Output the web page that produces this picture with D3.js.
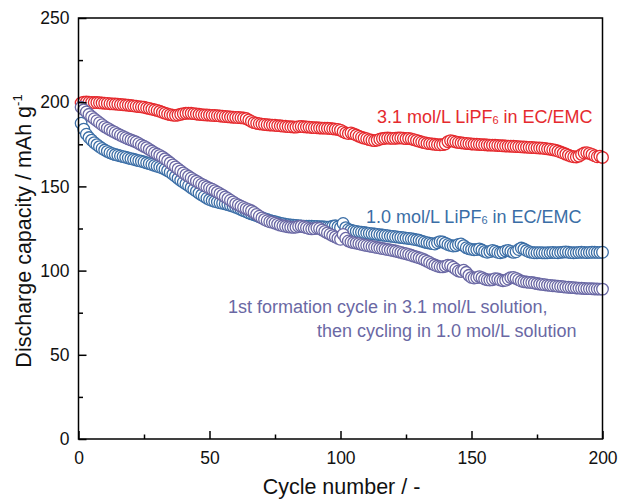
<!DOCTYPE html>
<html>
<head>
<meta charset="utf-8">
<script src="https://cdn.jsdelivr.net/npm/d3@7"></script>
<style>
  html, body { margin: 0; padding: 0; background: #fff; }
  svg { display: block; font-family: "Liberation Sans", Arial, sans-serif; }
</style>
</head>
<body>
<svg id="chart" width="618" height="500"></svg>
<script>
// Discharge capacity (mAh/g) per cycle, cycles 1..200
const cycles = d3.range(1, 201);

const cap31 = [
  199.5, 200.0, 200.1, 200.0, 199.9, 199.8, 199.8, 199.7, 199.5, 199.4,
  199.3, 199.1, 199.0, 198.9, 198.8, 198.6, 198.5, 198.3, 198.2, 198.0,
  197.8, 197.6, 197.4, 197.2, 197.0, 196.6, 196.3, 195.9, 195.5, 195.1,
  194.6, 194.0, 193.5, 193.0, 192.6, 192.3, 192.2, 192.4, 192.8, 193.2,
  193.4, 193.5, 193.4, 193.2, 193.0, 192.8, 192.6, 192.5, 192.4, 192.3,
  192.2, 192.1, 192.0, 191.8, 191.7, 191.5, 191.4, 191.2, 191.1, 191.0,
  190.9, 190.8, 190.6, 190.3, 189.5, 188.6, 187.9, 187.5, 187.2, 187.0,
  186.8, 186.6, 186.5, 186.4, 186.3, 186.1, 186.0, 185.8, 185.7, 185.5,
  185.4, 185.3, 185.2, 185.5, 185.6, 185.4, 185.3, 185.2, 185.0, 184.9,
  184.8, 184.7, 184.6, 184.6, 184.5, 184.4, 184.2, 184.0, 183.8, 183.4,
  182.5, 181.8, 181.4, 181.8, 181.2, 180.5, 179.8, 179.2, 178.7, 178.3,
  177.8, 177.4, 177.2, 177.5, 178.0, 178.4, 178.6, 178.7, 178.6, 178.5,
  178.6, 178.7, 178.8, 178.6, 178.4, 178.5, 178.2, 177.8, 177.3, 176.8,
  176.4, 176.0, 175.6, 175.4, 175.2, 175.0, 174.8, 174.7, 174.8, 175.2,
  176.6, 177.2, 176.8, 176.4, 176.1, 175.9, 175.7, 175.5, 175.4, 175.2,
  175.1, 175.0, 174.9, 174.8, 174.7, 174.6, 174.5, 174.5, 174.4, 174.3,
  174.2, 174.1, 174.0, 173.9, 173.9, 173.8, 173.7, 173.6, 173.5, 173.4,
  173.3, 173.2, 173.1, 173.0, 172.9, 172.8, 172.7, 172.5, 172.3, 172.1,
  171.8, 171.5, 171.0, 170.4, 169.8, 169.2, 168.6, 168.0, 167.6, 167.5,
  168.0, 169.0, 169.8, 170.0, 169.6, 169.0, 168.2, 167.6, 168.0, 167.2
];

const cap10 = [
  187.5, 184.0, 181.0, 179.0, 177.5, 176.0, 174.8, 173.6, 172.5, 171.6,
  170.8, 170.0, 169.4, 168.9, 168.5, 168.1, 167.7, 167.3, 166.9, 166.5,
  166.1, 165.7, 165.3, 164.9, 164.5, 164.0, 163.5, 163.0, 162.5, 162.0,
  161.5, 160.9, 160.2, 159.4, 158.4, 157.2, 156.0, 154.8, 153.6, 152.5,
  151.5, 150.4, 149.3, 148.2, 147.1, 146.0, 145.0, 144.0, 143.0, 142.2,
  141.6, 141.1, 140.7, 140.3, 140.0, 139.6, 139.2, 138.7, 138.2, 137.6,
  137.0, 136.3, 135.6, 135.0, 134.3, 133.7, 133.2, 132.6, 132.0, 131.4,
  130.8, 130.3, 129.8, 129.4, 129.0, 128.6, 128.2, 127.9, 127.6, 127.3,
  127.1, 126.9, 126.8, 126.6, 126.5, 126.4, 126.4, 126.3, 126.3, 126.2,
  126.2, 126.1, 126.0, 125.9, 125.8, 125.9, 126.3, 126.6, 126.0, 125.5,
  128.0, 125.5, 124.4, 124.0, 123.6, 123.3, 123.0, 122.8, 122.6, 122.3,
  122.1, 121.9, 121.7, 121.5, 121.3, 121.1, 120.9, 120.7, 120.5, 120.3,
  120.1, 119.9, 119.7, 119.5, 119.3, 119.1, 118.9, 118.6, 118.3, 118.0,
  117.5, 117.0, 116.6, 116.3, 116.0, 115.8, 116.5, 117.2, 117.0, 116.3,
  115.5, 115.0, 114.6, 114.8, 115.5, 115.8, 114.8, 113.6, 113.0, 112.6,
  112.4, 112.5, 112.9, 112.2, 111.4, 110.9, 111.3, 112.0, 111.5, 110.9,
  110.6, 111.0, 111.7, 112.0, 111.4, 110.8, 111.2, 112.5, 113.4, 112.8,
  111.9, 111.2, 110.8, 110.6, 110.6, 110.7, 110.6, 110.5, 110.6, 110.7,
  110.8, 110.7, 110.6, 110.8, 111.0, 111.1, 110.9, 110.7, 110.6, 110.7,
  110.8, 110.9, 110.8, 110.7, 110.8, 110.9, 110.9, 110.8, 110.8, 110.9
];

const capFormation = [
  197.0, 195.5, 194.2, 192.8, 191.4, 190.2, 189.0, 187.8, 186.6, 185.5,
  184.6, 183.7, 182.8, 182.0, 181.2, 180.4, 179.6, 178.9, 178.2, 177.6,
  177.0, 176.4, 175.5, 174.6, 173.8, 173.0, 172.0, 171.0, 170.0, 169.2,
  168.4, 167.5, 166.4, 165.2, 164.0, 162.8, 161.6, 160.4, 159.2, 158.0,
  157.0, 156.0, 155.0, 154.0, 153.1, 152.2, 151.3, 150.5, 149.7, 149.0,
  148.3, 147.5, 146.6, 145.7, 144.8, 143.8, 142.8, 141.8, 140.8, 139.8,
  139.0, 138.2, 137.5, 136.8, 136.2, 135.5, 134.5, 133.4, 132.3, 131.3,
  130.4, 129.6, 129.0, 128.7, 128.2, 127.6, 127.0, 126.6, 126.3, 126.0,
  125.8, 125.7, 125.8, 126.2, 126.4, 126.0, 125.5, 125.0, 124.8, 124.9,
  125.3, 125.0, 124.2, 123.3, 122.4, 121.6, 120.8, 120.0, 119.2, 118.6,
  121.5, 119.2, 117.6, 117.0, 116.6, 116.3, 116.0, 115.6, 115.2, 114.9,
  114.6, 114.3, 114.0, 113.7, 113.4, 113.1, 112.8, 112.5, 112.2, 111.9,
  111.6, 111.2, 110.8, 110.4, 110.0, 109.6, 109.1, 108.6, 108.1, 107.6,
  107.1, 106.4, 105.6, 104.8, 104.0, 103.3, 102.7, 102.3, 102.2, 102.6,
  103.2, 103.0, 102.0, 100.8, 99.8, 99.5, 100.2, 99.0, 97.2, 96.0,
  95.6, 95.8, 96.4, 95.8, 95.0, 94.6, 94.4, 94.6, 95.2, 95.0,
  94.4, 94.0, 94.2, 95.0, 95.8, 96.0, 95.4, 94.6, 93.8, 93.4,
  93.2, 93.0, 92.9, 92.6, 92.3, 92.0, 91.8, 91.6, 91.4, 91.2,
  91.0, 90.9, 90.7, 90.6, 90.4, 90.2, 90.1, 90.0, 89.9, 89.7,
  89.6, 89.5, 89.4, 89.3, 89.3, 89.2, 89.1, 89.1, 89.0, 89.0
];

const xMajorTicks = [0, 50, 100, 150, 200];
const xMinorTicks = [25, 75, 125, 175];
const yMajorTicks = [0, 50, 100, 150, 200, 250];
const yMinorTicks = [25, 75, 125, 175, 225];

const series = [
  { name: "3.1 mol/L", values: cap31, color: "#e52a2e" },
  { name: "1.0 mol/L", values: cap10, color: "#3b6ea6" },
  { name: "formation", values: capFormation, color: "#6a68a4" }
];

const svg = d3.select("#chart");
const plotLeft = 78.5, plotRight = 602.5, plotTop = 18, plotBottom = 439;

const x = d3.scaleLinear().domain([0, 200]).range([plotLeft, plotRight]);
const y = d3.scaleLinear().domain([0, 250]).range([plotBottom, plotTop]);

// Data markers: open circles
series.forEach(s => {
  svg.append("g")
    .selectAll("circle")
    .data(cycles.map((c, i) => [c, s.values[i]]))
    .join("circle")
    .attr("cx", d => x(d[0]))
    .attr("cy", d => y(d[1]))
    .attr("r", 5.8)
    .attr("fill", "#fff")
    .attr("stroke", s.color)
    .attr("stroke-width", 1.3);
});

// Axes with inward ticks
const tickFont = 17.5;
const xAxis = svg.append("g")
  .attr("transform", `translate(0,${plotBottom})`)
  .call(d3.axisBottom(x).tickValues(xMajorTicks).tickSizeInner(-8).tickSizeOuter(0).tickPadding(13));
const xMinor = svg.append("g")
  .attr("transform", `translate(0,${plotBottom})`)
  .call(d3.axisBottom(x).tickValues(xMinorTicks).tickSizeInner(-4.5).tickSizeOuter(0).tickFormat(""));
const yAxis = svg.append("g")
  .attr("transform", `translate(${plotLeft},0)`)
  .call(d3.axisLeft(y).tickValues(yMajorTicks).tickSizeInner(-8).tickSizeOuter(0).tickPadding(9));
const yMinor = svg.append("g")
  .attr("transform", `translate(${plotLeft},0)`)
  .call(d3.axisLeft(y).tickValues(yMinorTicks).tickSizeInner(-4.5).tickSizeOuter(0).tickFormat(""));

[xAxis, xMinor, yAxis, yMinor].forEach(g => {
  g.select(".domain").remove();
  g.selectAll("line").attr("stroke", "#000").attr("stroke-width", 1.5);
  g.selectAll("text")
    .attr("font-size", tickFont)
    .attr("font-family", "'Liberation Sans', Arial, sans-serif")
    .attr("fill", "#111");
});

// Frame
svg.append("rect")
  .attr("x", plotLeft).attr("y", plotTop)
  .attr("width", plotRight - plotLeft).attr("height", plotBottom - plotTop)
  .attr("fill", "none").attr("stroke", "#000").attr("stroke-width", 1.5);

// Axis titles
svg.append("text")
  .attr("x", (plotLeft + plotRight) / 2 + 1)
  .attr("y", 494)
  .attr("text-anchor", "middle")
  .attr("font-size", 21.5)
  .attr("fill", "#111")
  .text("Cycle number / -");

const yTitle = svg.append("text")
  .attr("transform", "translate(31,231) rotate(-90)")
  .attr("text-anchor", "middle")
  .attr("font-size", 21.5)
  .attr("fill", "#111");
yTitle.append("tspan").text("Discharge capacity / mAh g");
yTitle.append("tspan").attr("font-size", 13).attr("dy", -9).text("-1");

// Series labels
function saltLabel(xp, yp, conc, color) {
  const t = svg.append("text")
    .attr("x", xp).attr("y", yp)
    .attr("font-size", 18)
    .attr("fill", color);
  t.append("tspan").text(conc + " mol/L LiPF");
  t.append("tspan").attr("font-size", 11).attr("dy", 1).text("6");
  t.append("tspan").attr("dy", -1).text(" in EC/EMC");
}
saltLabel(377, 123, "3.1", "#e52a2e");
saltLabel(366, 223, "1.0", "#3b6ea6");

svg.append("text")
  .attr("x", 228).attr("y", 313)
  .attr("font-size", 18).attr("fill", "#6a68a4")
  .text("1st formation cycle in 3.1 mol/L solution,");
svg.append("text")
  .attr("x", 317).attr("y", 337)
  .attr("font-size", 18).attr("fill", "#6a68a4")
  .text("then cycling in 1.0 mol/L solution");
</script>
</body>
</html>
